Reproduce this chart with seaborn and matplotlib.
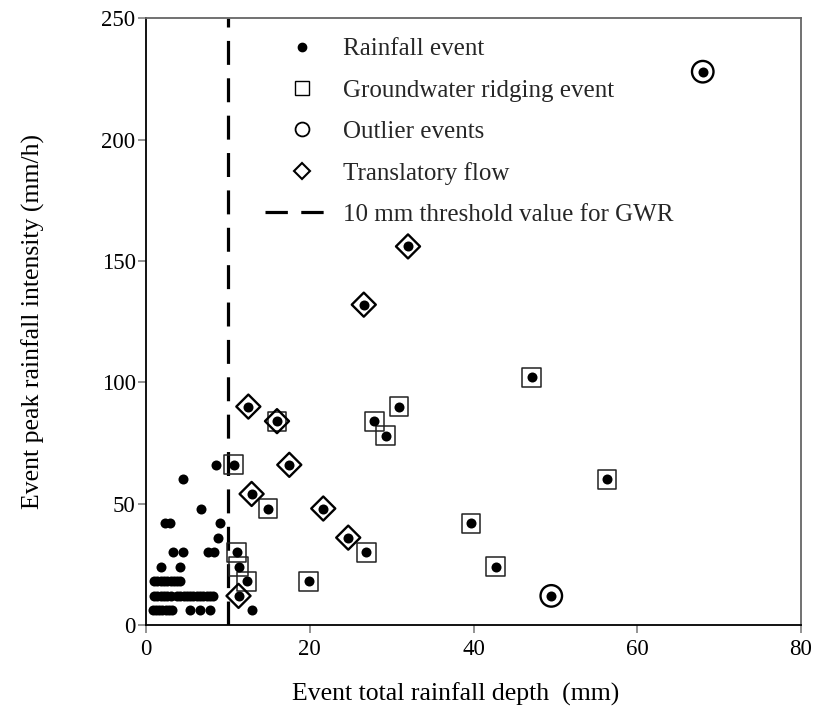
import matplotlib
matplotlib.use("Agg")
import matplotlib.pyplot as plt
import seaborn as sns
import pandas as pd
from matplotlib.lines import Line2D
from matplotlib.legend_handler import HandlerLine2D

# ---- data -------------------------------------------------------------
rain_x = [0.8, 1.2, 1.6, 2.0, 2.4, 2.8, 3.2, 5.4, 6.6, 7.8, 12.9,
          1.0, 1.4, 1.8, 2.2, 2.6, 3.0, 3.8, 4.2, 4.6, 5.0, 5.4, 5.8, 6.2, 6.6, 7.0, 7.4, 7.8, 8.2, 11.3, 49.5,
          1.0, 1.4, 1.8, 2.2, 2.6, 3.0, 3.4, 3.8, 4.2, 12.3, 19.9,
          1.8, 4.1, 11.3, 42.7,
          3.3, 4.5, 7.6, 8.3, 11.1, 26.9,
          8.85, 24.7,
          2.3, 2.9, 9.0, 39.7,
          6.7, 14.9, 21.65,
          12.9,
          4.5, 56.3,
          8.5, 10.7, 17.5,
          29.3,
          27.9, 16.0,
          12.5, 30.9,
          47.1,
          26.6,
          32.0,
          68.0]
rain_y = [6] * 11 + [12] * 20 + [18] * 11 + [24] * 4 + [30] * 6 + [36] * 2 + \
         [42] * 4 + [48] * 3 + [54] + [60] * 2 + [66] * 3 + [78] + [84] * 2 + \
         [90] * 2 + [102] + [132] + [156] + [228]

gwr_x = [12.3, 19.9, 11.3, 42.7, 11.1, 26.9, 39.7, 14.9, 56.3, 10.7, 29.3, 27.9, 16.0, 30.9, 47.1]
gwr_y = [18, 18, 24, 24, 30, 30, 42, 48, 60, 66, 78, 84, 84, 90, 102]

outlier_x = [49.5, 68.0]
outlier_y = [12, 228]

trans_x = [11.3, 24.7, 21.65, 12.9, 17.5, 16.0, 12.5, 26.6, 32.0]
trans_y = [12, 36, 48, 54, 66, 84, 90, 132, 156]

threshold = 10

x_ticks = [0, 20, 40, 60, 80]
y_ticks = [0, 50, 100, 150, 200, 250]

legend_labels = ["Rainfall event", "Groundwater ridging event", "Outlier events",
                 "Translatory flow", "10 mm threshold value for GWR"]
x_label = "Event total rainfall depth  (mm)"
y_label = "Event peak rainfall intensity (mm/h)"

# ---- plot -------------------------------------------------------------
sns.set_theme(style="white")
plt.rcParams["font.family"] = ["Liberation Serif", "DejaVu Serif"]

fig = plt.figure(figsize=(8.16, 7.11), dpi=100)
ax = fig.add_axes([146 / 816, 1 - 625 / 711, (801 - 146) / 816, (625 - 18.3) / 711])

rain = pd.DataFrame({"x": rain_x, "y": rain_y})
gwr = pd.DataFrame({"x": gwr_x, "y": gwr_y})
outl = pd.DataFrame({"x": outlier_x, "y": outlier_y})
trans = pd.DataFrame({"x": trans_x, "y": trans_y})

ax.axvline(threshold, color="black", lw=2.3, dashes=(7.5, 4.2), zorder=1)

sns.scatterplot(data=gwr, x="x", y="y", marker="s", s=185, facecolor="none",
                edgecolor="#222222", linewidth=1.1, ax=ax, zorder=3)
sns.scatterplot(data=trans, x="x", y="y", marker="D", s=150, facecolor="none",
                edgecolor="black", linewidth=1.7, ax=ax, zorder=3)
sns.scatterplot(data=outl, x="x", y="y", marker="o", s=240, facecolor="none",
                edgecolor="black", linewidth=1.7, ax=ax, zorder=3)
sns.scatterplot(data=rain, x="x", y="y", marker="o", s=52, color="black",
                edgecolor="black", linewidth=0, ax=ax, zorder=4)

ax.set_xlim(0, 80)
ax.set_ylim(0, 250)
ax.set_xticks(x_ticks)
ax.set_yticks(y_ticks)
ax.tick_params(axis="both", which="major", direction="out", length=6, width=1.2,
               color="#808080", labelsize=16.5, labelcolor="black",
               bottom=True, left=True)
ax.tick_params(axis="x", pad=4)
ax.tick_params(axis="y", pad=1.5)

for side in ["left", "bottom"]:
    ax.spines[side].set_color("black")
    ax.spines[side].set_linewidth(1.3)
for side in ["top", "right"]:
    ax.spines[side].set_color("#666666")
    ax.spines[side].set_linewidth(1.3)

ax.set_xlabel(x_label, fontsize=18.5, labelpad=16, color="black")
ax.xaxis.label.set_x(0.473)
ax.set_ylabel(y_label, fontsize=18.5, labelpad=41, color="black")


class ShiftedMarker(HandlerLine2D):
    """Marker drawn slightly right of the handle centre, as in the original."""
    def create_artists(self, legend, orig_handle, xdescent, ydescent, width,
                       height, fontsize, trans):
        arts = super().create_artists(legend, orig_handle, xdescent, ydescent,
                                      width, height, fontsize, trans)
        for a in arts:
            xd = a.get_xdata()
            a.set_xdata([v + 5.0 for v in xd])
        return arts


handles = [
    Line2D([], [], marker="o", ls="none", color="black", markersize=6),
    Line2D([], [], marker="s", ls="none", markerfacecolor="none", markeredgecolor="black",
           markersize=10, markeredgewidth=1.0),
    Line2D([], [], marker="o", ls="none", markerfacecolor="none", markeredgecolor="black",
           markersize=10, markeredgewidth=1.3),
    Line2D([], [], marker="D", ls="none", markerfacecolor="none", markeredgecolor="black",
           markersize=8, markeredgewidth=1.5),
    Line2D([], [], color="black", lw=2.3, dashes=(7.0, 4.2)),
]
hmap = {h: ShiftedMarker(numpoints=1) for h in handles[:4]}
ax.legend(handles, legend_labels, loc="upper left", bbox_to_anchor=(0.148, 1.005),
          frameon=False, fontsize=18, handlelength=2.4, handletextpad=0.72,
          labelspacing=0.75, borderpad=0.4, handler_map=hmap)

fig.savefig("out.png", dpi=100)
